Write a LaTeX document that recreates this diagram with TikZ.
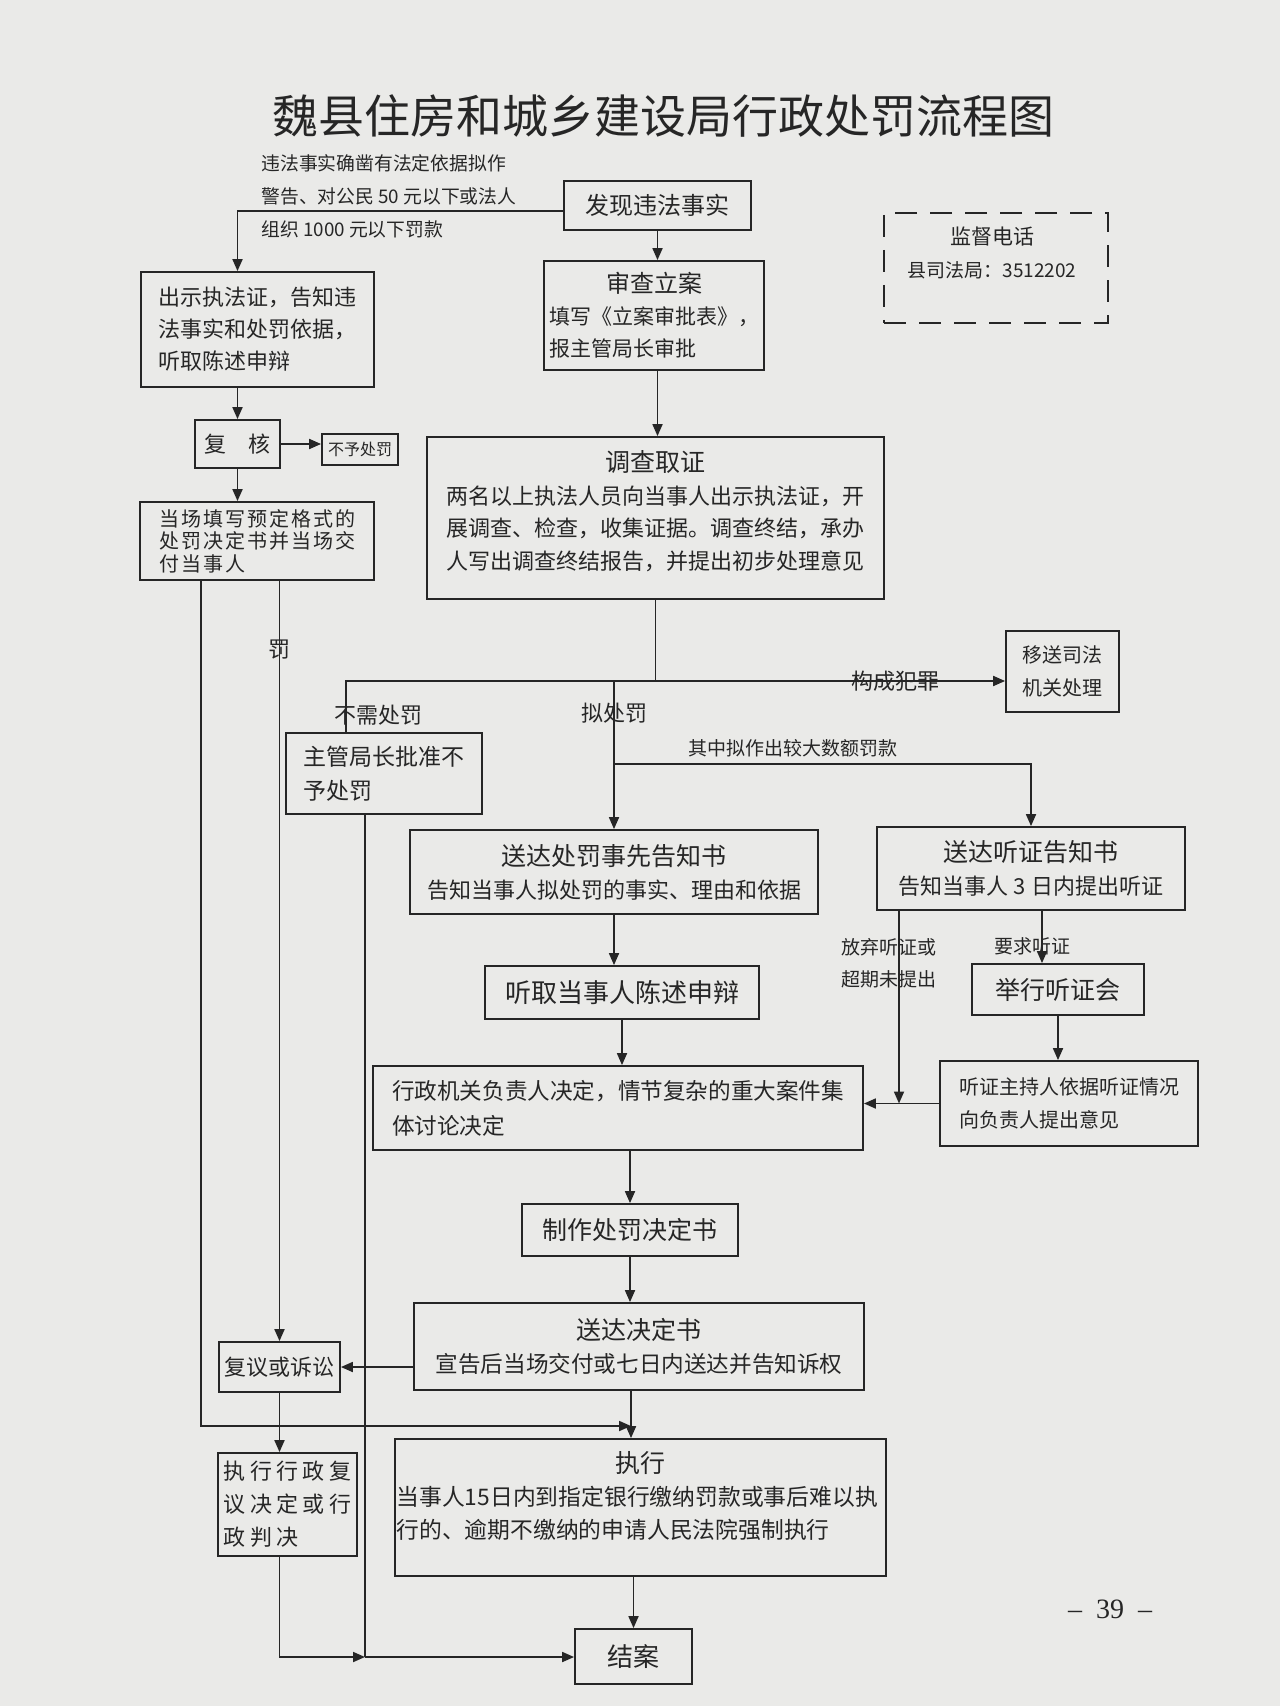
\documentclass[tikz,border=0pt]{standalone}
\usepackage{fontspec}
\setmainfont{Noto Sans CJK SC}
\newfontfamily\widefont[LetterSpace=10]{Noto Sans CJK SC}
\newfontfamily\widerfont[LetterSpace=20]{Noto Sans CJK SC}
\newfontfamily\numfont{Liberation Serif}
\usetikzlibrary{arrows.meta,positioning,calc}
\definecolor{paper}{RGB}{234,234,232}
\definecolor{ink}{RGB}{38,38,38}
\newcommand{\fs}[2]{\fontsize{#1}{#2}\selectfont}

\begin{document}
\begin{tikzpicture}[x=0.5pt, y=-0.5pt, >={Triangle[length=6pt,width=5pt]},
  stepbox/.style={draw=ink, line width=0.9pt, text=ink, inner sep=2pt},
  tag/.style={text=ink, inner sep=0pt, font=\fs{11}{13}},
  flow/.style={draw=ink, line width=0.9pt}]
\fill[paper] (0,0) rectangle (1280,1706);
\useasboundingbox (0,0) rectangle (1280,1706);

\node[text=ink, font=\fs{23}{28}] (heading) at (663,116) {魏县住房和城乡建设局行政处罚流程图};
\node[tag, font=\fs{9.4}{16.5}, align=left, anchor=west] (rule) at (261,196) {违法事实确凿有法定依据拟作\\警告、对公民 50 元以下或法人\\组织 1000 元以下罚款};

% top row
\node[stepbox, minimum width=93.5pt, minimum height=24.5pt, font=\fs{12}{14}] (find) at (657.5,205.5) {发现违法事实};
\node[stepbox, minimum width=116.5pt, minimum height=57.5pt, font=\fs{11}{16}, align=left] (show) at (257.5,329.5) {出示执法证，告知违\\法事实和处罚依据，\\听取陈述申辩};
\node[stepbox, minimum width=110pt, minimum height=54.5pt, text width=105pt, align=left, font=\fs{10.5}{16}] (file) at (654,315.5) {\hfill{\fs{12}{16}审查立案}\hfill\null\\填写《立案审批表》，\\报主管局长审批};
\node[draw=ink, dash pattern=on 11pt off 6.5pt, line width=1.4pt, minimum width=112pt, minimum height=55pt] (hotline) at (996,268) {};
\node[tag, align=center, font=\fs{10.5}{16.5}] (hotlinetext) at (992,253) {监督电话\\{\fs{9.5}{16.5}县司法局：3512202}};

% simple procedure
\node[stepbox, minimum width=42.5pt, minimum height=24pt, font=\fs{11}{13}] (review) at (237.5,444) {复　核};
\node[stepbox, minimum width=38pt, minimum height=15.5pt, inner sep=1pt, font=\fs{8}{10}] (nopen) at (360,449.5) {不予处罚};
\node[stepbox, minimum width=117pt, minimum height=39pt, align=left, font=\widefont\fs{10}{11.3}] (spot) at (257,541) {当场填写预定格式的\\处罚决定书并当场交\\付当事人};

% general procedure
\node[stepbox, minimum width=228.5pt, minimum height=81pt, text width=224pt, align=center, font=\fs{11}{16.3}] (invest) at (655.5,518) {{\fs{12.5}{16.3}调查取证}\\两名以上执法人员向当事人出示执法证，开\\展调查、检查，收集证据。调查终结，承办\\人写出调查终结报告，并提出初步处理意见\\[-8.3pt]\mbox{}};
\node[stepbox, minimum width=56.5pt, minimum height=40.5pt, align=left, font=\fs{10}{16.5}] (transfer) at (1062.5,671.5) {移送司法\\机关处理};
\node[stepbox, minimum width=98pt, minimum height=40.5pt, align=left, font=\fs{11.5}{17}] (noneed) at (384,773.5) {主管局长批准不\\予处罚};
\node[stepbox, minimum width=204pt, minimum height=42pt, align=center, font=\fs{11}{16.5}] (notice) at (614,872) {{\fs{12.5}{16.5}送达处罚事先告知书}\\告知当事人拟处罚的事实、理由和依据};
\node[stepbox, minimum width=154pt, minimum height=41.5pt, align=center, font=\fs{11}{16.5}] (hnotice) at (1031,868.5) {{\fs{12.5}{16.5}送达听证告知书}\\告知当事人 3 日内提出听证};
\node[stepbox, minimum width=137pt, minimum height=26.5pt, font=\fs{13}{15}] (state) at (622,992.5) {听取当事人陈述申辩};
\node[stepbox, minimum width=86pt, minimum height=25.5pt, font=\fs{12.5}{15}] (hearing) at (1058,989.5) {举行听证会};
\node[stepbox, minimum width=245pt, minimum height=42pt, align=left, font=\fs{11.3}{17.5}] (decide) at (618,1108) {行政机关负责人决定，情节复杂的重大案件集\\体讨论决定};
\node[stepbox, minimum width=129pt, minimum height=42.5pt, align=left, font=\fs{10}{16.5}] (host) at (1069,1103.5) {听证主持人依据听证情况\\向负责人提出意见};
\node[stepbox, minimum width=108pt, minimum height=26pt, font=\fs{12.5}{15}] (draft) at (630,1230) {制作处罚决定书};
\node[stepbox, minimum width=225pt, minimum height=43.5pt, align=center, font=\fs{11.3}{16.5}] (deliver) at (639,1346.5) {{\fs{12.5}{16.5}送达决定书}\\宣告后当场交付或七日内送达并告知诉权};
\node[stepbox, minimum width=60.5pt, minimum height=25pt, font=\fs{11}{13}] (appeal) at (279.5,1367) {复议或诉讼};
\node[stepbox, minimum width=69.5pt, minimum height=51.5pt, inner xsep=1pt, align=left, font=\widerfont\fs{11}{16.5}] (verdict) at (287.5,1504.5) {执行行政复\\议决定或行\\政判决};
\node[stepbox, minimum width=245.5pt, minimum height=68.5pt, text width=244pt, inner xsep=0.5pt, align=left, font=\fs{11.4}{16.5}] (exec) at (640.5,1507.5) {\hfill{\fs{12.5}{16.5}执行}\hfill\null\\当事人15日内到指定银行缴纳罚款或事后难以执\\行的、逾期不缴纳的申请人民法院强制执行\\[-4pt]\mbox{}};
\node[stepbox, minimum width=58.5pt, minimum height=27.5pt, font=\fs{13}{15}] (close) at (633.5,1656.5) {结案};
\node[text=ink, font=\numfont\fs{14}{16}] (page) at (1110,1609) {–\enspace 39\enspace –};

\coordinate (fork) at (invest.south |- 0,681);
\coordinate (lturn) at (201,1426);
\coordinate (execin) at (631,1426);
\coordinate (closein) at (365,1657);

% connectors
\draw[flow,->] (find.west |- 0,211) -| (show.north -| review);
\draw[flow,->] (find.south) -- (find.south |- file.north);
\draw[flow,->] (file.south -| find) -- (invest.north -| find);
\draw[flow,->] (show.south -| review) -- (review.north);
\draw[flow,->] (review.east) -- (review.east -| nopen.west);
\draw[flow,->] (review.south) -- (spot.north -| review);
\draw[flow,->] (spot.south -| lturn) -- (lturn) -- (execin);
\draw[flow,->] (spot.south -| appeal) -- node[tag, pos=0.09] {罚} (appeal.north);
\draw[flow] (invest.south) -- (fork);
\draw[flow,->] (noneed.north -| 346,0) |- node[tag, pos=0.17, xshift=16pt] {不需处罚} (transfer.west |- fork)
  node[tag, pos=0.917] {构成犯罪};
\draw[flow,->] (fork -| notice) -- node[tag, pos=0.22] {拟处罚} (notice.north);
\draw[flow,->] (notice.north |- 0,764) -| node[tag, above=3pt, pos=0.215, font=\fs{9.5}{11}] {其中拟作出较大数额罚款} (hnotice.north);
\draw[flow,->] (notice.south) -- (notice.south |- state.north);
\draw[flow,->] (state.south) -- (state.south |- decide.north);
\draw[flow,->] (hnotice.south -| 899,0) -- node[tag, pos=0.27, xshift=-5pt, align=center, font=\fs{9.5}{16}] {放弃听证或\\超期未提出} (host.west -| 899,0);
\draw[flow,->] (hnotice.south -| 1042,0) -- node[tag, pos=0.67, xshift=-5pt, font=\fs{9.5}{11}] {要求听证} (hearing.north -| 1042,0);
\draw[flow,->] (hearing.south) -- (hearing.south |- host.north);
\draw[flow,->] (host.west) -- (host.west -| decide.east);
\draw[flow,->] (decide.south -| draft) -- (draft.north);
\draw[flow,->] (draft.south) -- (draft.south |- deliver.north);
\draw[flow,->] (deliver.west |- appeal.east) -- (appeal.east);
\draw[flow,->] (deliver.south -| execin) -- (exec.north -| execin);
\draw[flow,->] (appeal.south) -- (appeal.south |- verdict.north);
\draw[flow,->] (verdict.south -| appeal) |- (closein);
\draw[flow] (noneed.south -| closein) -- (closein);
\draw[flow,->] (closein) -- (closein -| close.west);
\draw[flow,->] (exec.south -| close) -- (close.north);
\end{tikzpicture}
\end{document}
